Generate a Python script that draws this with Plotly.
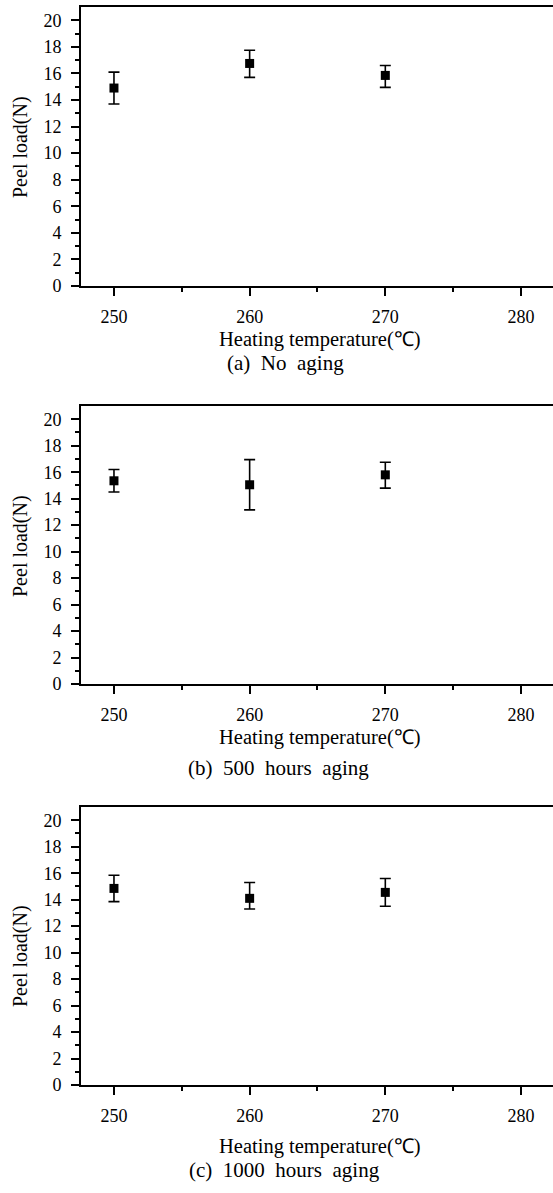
import plotly.graph_objects as go

# ---- data ----
temps = [250, 260, 270]
a_vals = [14.9, 16.75, 15.85]
a_plus = [1.2, 1.0, 0.75]
a_minus = [1.2, 1.05, 0.9]
b_vals = [15.35, 15.05, 15.8]
b_plus = [0.85, 1.9, 0.95]
b_minus = [0.85, 1.9, 1.0]
c_vals = [14.85, 14.1, 14.55]
c_plus = [1.0, 1.2, 1.05]
c_minus = [1.0, 0.8, 1.05]
captions = ["(a)&nbsp; No&nbsp; aging", "(b)&nbsp; 500&nbsp; hours&nbsp; aging",
            "(c)&nbsp; 1000&nbsp; hours&nbsp; aging"]
x_title = "Heating temperature(℃)"
y_title = "Peel load(N)"
x_ticks = [250, 260, 270, 280]
y_ticks = [0, 2, 4, 6, 8, 10, 12, 14, 16, 18, 20]

W, H = 553, 1193
L = 81
PW = W - L
FONT = "Liberation Serif, Times New Roman, serif"

def py(px):
    return 1 - px / H

def pxx(px):
    return (px - L) / PW

panels = [
    # (vals, plus, minus, top px, bottom px, xtitle px, caption px, caption x px, ytitle center px)
    (a_vals, a_plus, a_minus, 7, 286, 339, 363, 285, 147),
    (b_vals, b_plus, b_minus, 406, 684, 737, 768, 278, 546),
    (c_vals, c_plus, c_minus, 807, 1085, 1146, 1170, 284, 956),
]

fig = go.Figure()
annotations = []
for i, (vals, plus, minus, top, bot, xt, cap, capx, yt) in enumerate(panels):
    n = "" if i == 0 else str(i + 1)
    fig.add_trace(go.Scatter(
        x=temps, y=vals, mode="markers",
        xaxis="x" + n, yaxis="y" + n,
        marker=dict(symbol="square", size=9, color="black"),
        error_y=dict(type="data", symmetric=False, array=plus, arrayminus=minus,
                     color="black", thickness=1.6, width=5.5),
        showlegend=False,
    ))
    xa = dict(
        domain=[0, 1], range=[247.57, 282.36], anchor="y" + n,
        tickmode="array", tickvals=x_ticks, ticktext=[str(t) for t in x_ticks],
        ticks="outside", ticklen=8, tickwidth=1.5, tickcolor="black",
        minor=dict(tickvals=[255, 265, 275], ticks="outside", ticklen=4,
                   tickwidth=1.5, tickcolor="black", showgrid=False),
        showline=True, linecolor="black", linewidth=2, mirror=True,
        showgrid=False, zeroline=False, ticklabelstandoff=5,
        tickfont=dict(family=FONT, size=18, color="black"),
    )
    ya = dict(
        domain=[py(bot), py(top)], range=[0, 21], anchor="x" + n,
        tickmode="array", tickvals=y_ticks, ticktext=[str(t) for t in y_ticks],
        ticks="outside", ticklen=8, tickwidth=1.5, tickcolor="black",
        minor=dict(tickvals=[1, 3, 5, 7, 9, 11, 13, 15, 17, 19], ticks="outside",
                   ticklen=4, tickwidth=1.5, tickcolor="black", showgrid=False),
        showline=True, linecolor="black", linewidth=2,
        showgrid=False, zeroline=False, ticklabelstandoff=6,
        tickfont=dict(family=FONT, size=18, color="black"),
    )
    fig.layout["xaxis" + n] = xa
    fig.layout["yaxis" + n] = ya
    annotations.append(dict(
        text=x_title, xref="paper", yref="paper", x=pxx(319.5), y=py(xt),
        xanchor="center", yanchor="middle", showarrow=False,
        font=dict(family=FONT, size=20.5, color="black")))
    annotations.append(dict(
        text=captions[i], xref="paper", yref="paper", x=pxx(capx), y=py(cap),
        xanchor="center", yanchor="middle", showarrow=False,
        font=dict(family=FONT, size=21, color="black")))
    annotations.append(dict(
        text=y_title, xref="paper", yref="paper", x=pxx(20), y=py(yt),
        xanchor="center", yanchor="middle", showarrow=False, textangle=-90,
        font=dict(family=FONT, size=20, color="black")))

fig.update_layout(
    width=W, height=H,
    margin=dict(l=L, r=0, t=0, b=0, autoexpand=False),
    paper_bgcolor="white", plot_bgcolor="white",
    annotations=annotations,
)

fig.write_html("out.html")
